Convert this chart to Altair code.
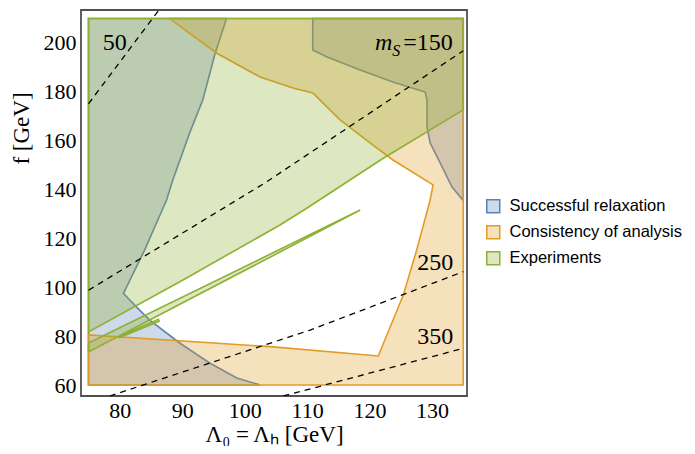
import altair as alt
import pandas as pd

# ---- region boundaries (data coords: x = Lambda [GeV], y = f [GeV]) ----
blue_left_x = [75, 97.1, 95.3, 93.3, 91.2, 88.5, 87.5, 84.0, 80.6, 81.3, 82.7, 84.8, 89.6, 94.4, 98.75, 102.5, 75]
blue_left_y = [210, 210, 196, 176.7, 163.2, 143.9, 135.7, 115.3, 97.5, 95.6, 91.9, 86.6, 77.2, 69.0, 62.9, 60, 60]

blue_right_x = [110.9, 135, 135, 133.2, 131.3, 129.7, 129.2, 129.2, 128.9, 123.75, 118.5, 113.2, 110.9]
blue_right_y = [210, 210, 135.5, 141.0, 150.9, 159.1, 165.6, 176.7, 179.9, 184.0, 188.9, 194.3, 197.1]

orange_x = [88.0, 135, 135, 75, 75, 104.1, 121.4, 125.4, 127.55, 129.7, 130.16, 123.75, 120.07, 115.27, 110.94, 107.74, 102.46, 95.53]
orange_y = [210, 210, 60, 60, 80.5, 75.7, 71.9, 96.8, 115.3, 135.7, 141.9, 152.1, 159.1, 168.5, 179.5, 181.6, 186.1, 195.8]

green_x = [75, 135, 135, 122.0, 110.0, 105.66, 90.13, 75]
green_y = [210, 210, 172.6, 152.5, 132.45, 125.5, 103.0, 81.7]

sliver_x = [75, 118.5, 75]
sliver_y = [77.2, 131.6, 73.5]

lens_x = [80.0, 86.2, 86.3, 80.0]
lens_y = [80.1, 86.9, 86.1, 79.4]

# ---- m_S contours (dashed) ----
m50_x, m50_y = [75, 86.3], [175.1, 213.6]
m150_x, m150_y = [75, 103.3, 135], [98.8, 142.8, 196.8]
m250_x, m250_y = [78.4, 110.5, 135], [55.5, 82.5, 106.4]
m350_x, m350_y = [106.2, 135], [55.5, 75.0]

categories = ["Successful relaxation", "Consistency of analysis", "Experiments"]
stroke_colors = ["#5E81B5", "#E19C24", "#8FB032"]
fill_colors = ["rgba(94,129,181,0.3)", "rgba(225,156,36,0.3)", "rgba(143,176,50,0.3)"]

x_ticks = [80, 90, 100, 110, 120, 130]
y_ticks = [60, 80, 100, 120, 140, 160, 180, 200]


def poly_frame(region, polys):
    rows = []
    for pid, (xs, ys) in enumerate(polys):
        for i, (x, y) in enumerate(zip(xs, ys)):
            rows.append({"region": region, "poly": f"{region}-{pid}", "order": i, "x": x, "y": y})
    return pd.DataFrame(rows)


blue_df = poly_frame(categories[0], [(blue_left_x, blue_left_y), (blue_right_x, blue_right_y)])
orange_df = poly_frame(categories[1], [(orange_x, orange_y)])
green_df = poly_frame(categories[2], [(green_x, green_y), (sliver_x, sliver_y), (lens_x, lens_y)])

dash_rows = []
for name, xs, ys in [("50", m50_x, m50_y), ("150", m150_x, m150_y), ("250", m250_x, m250_y), ("350", m350_x, m350_y)]:
    for i, (x, y) in enumerate(zip(xs, ys)):
        dash_rows.append({"m": name, "order": i, "x": x, "y": y})
dash_df = pd.DataFrame(dash_rows)

SERIF = "Liberation Serif"

xscale = alt.Scale(domain=[73.8, 135.6], nice=False, zero=False)
yscale = alt.Scale(domain=[55.5, 213.5], nice=False, zero=False)

xenc = alt.X("x:Q", scale=xscale, axis=alt.Axis(
    values=x_ticks, ticks=False, domain=False, grid=False,
    labelFont=SERIF, labelFontSize=22, labelColor="black", labelPadding=4,
    title="Λ₀ = Λₕ [GeV]", titleFont=SERIF, titleFontSize=23, titleFontWeight="normal",
    titleColor="black", titleY=45, titleBaseline="alphabetic"))
yenc = alt.Y("y:Q", scale=yscale, axis=alt.Axis(
    values=y_ticks, ticks=False, domain=False, grid=False,
    labelFont=SERIF, labelFontSize=22, labelColor="black", labelPadding=5,
    title="f [GeV]", titleFont=SERIF, titleFontSize=23, titleFontWeight="normal",
    titleColor="black", titleX=-60, titleY=118, titleAngle=-90, titleAlign="center",
    titleBaseline="middle"))

legend = alt.Legend(title=None, orient="none", legendX=404, legendY=188,
                    symbolType="square", symbolSize=169, symbolStrokeWidth=1.5,
                    labelFont="Liberation Sans", labelFontSize=16.5, labelLimit=400,
                    labelColor="black", rowPadding=6, labelOffset=8)
fill_enc = alt.Fill("region:N", scale=alt.Scale(domain=categories, range=fill_colors), legend=legend)
stroke_enc = alt.Stroke("region:N", scale=alt.Scale(domain=categories, range=stroke_colors), legend=legend)


def region_layer(df):
    return alt.Chart(df).mark_line(interpolate="linear-closed", strokeWidth=1.6, clip=True).encode(
        x=xenc, y=yenc, order="order:Q", detail="poly:N", fill=fill_enc, stroke=stroke_enc)


dashed = alt.Chart(dash_df).mark_line(color="black", strokeWidth=1.3, strokeDash=[6, 5], clip=True).encode(
    x=alt.X("x:Q", scale=xscale), y=alt.Y("y:Q", scale=yscale), detail="m:N", order="order:Q")

label_df = pd.DataFrame({
    "x": [79.2, 130.5, 130.5],
    "y": [200.0, 109.9, 79.6],
    "t": ["50", "250", "350"],
})
labels_c = alt.Chart(label_df).mark_text(font=SERIF, fontSize=24, color="black", align="center",
                                         baseline="middle").encode(
    x=alt.X("x:Q", scale=xscale), y=alt.Y("y:Q", scale=yscale), text="t:N")

ms_df = pd.DataFrame({"x": [125.4], "y": [200.0], "t": ["=150"]})
labels_l = alt.Chart(ms_df).mark_text(font=SERIF, fontSize=24, color="black", align="left",
                                      baseline="middle").encode(
    x=alt.X("x:Q", scale=xscale), y=alt.Y("y:Q", scale=yscale), text="t:N")
m_df = pd.DataFrame({"x": [125.4], "y": [200.0], "t": ["m"]})
s_df = pd.DataFrame({"x": [125.4], "y": [200.0], "t": ["S"]})
m_text = alt.Chart(m_df).mark_text(font=SERIF, fontSize=24, fontStyle="italic", color="black",
                                   align="right", baseline="middle", dx=-11).encode(
    x=alt.X("x:Q", scale=xscale), y=alt.Y("y:Q", scale=yscale), text="t:N")
s_text = alt.Chart(s_df).mark_text(font=SERIF, fontSize=16, fontStyle="italic", color="black",
                                   align="left", baseline="middle", dx=-11, dy=8).encode(
    x=alt.X("x:Q", scale=xscale), y=alt.Y("y:Q", scale=yscale), text="t:N")

chart = alt.layer(
    region_layer(blue_df), region_layer(orange_df), region_layer(green_df),
    dashed, labels_c, labels_l, m_text, s_text
).properties(
    width=386, height=386,
    autosize=alt.AutoSizeParams(type="none"),
    padding={"left": 73, "top": 2, "right": 220, "bottom": 50},
).configure_view(stroke="#505050", strokeWidth=1.8)

chart.save("out.html", embed_options={"renderer": "svg", "actions": False})
